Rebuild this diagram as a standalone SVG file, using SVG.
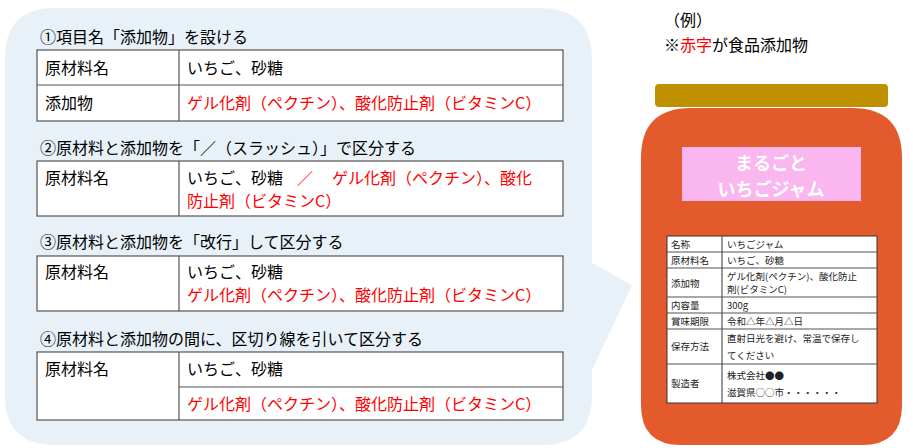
<svg xmlns="http://www.w3.org/2000/svg" width="913" height="448" viewBox="0 0 913 448">
<style>
text{font-family:"Noto Sans CJK JP","Liberation Sans",sans-serif;}
.t{font-size:16px;fill:#000}
.r{font-size:16px;fill:#ff0000}
.cell{fill:#fff;stroke:#555;stroke-width:1.2}
.ln{stroke:#555;stroke-width:1.2}
.s{font-size:9.5px;fill:#222}
.sc{fill:#fff;stroke:#333;stroke-width:1}
</style>
<g id="balloon">
<path d="M55,8 H540 Q592,8 592,60 V263 L632,285 L592,370 V395 Q592,445 542,445 H55 Q5,445 5,395 V58 Q5,8 55,8 Z" fill="#e8f0f8"/>
</g>
<g id="option1">
<text class="t" x="40" y="43">①項目名「添加物」を設ける</text>
<rect class="cell" x="37" y="50" width="526" height="71"/>
<line class="ln" x1="37" y1="85" x2="563" y2="85"/>
<line class="ln" x1="179" y1="50" x2="179" y2="121"/>
<text class="t" x="45" y="74">原材料名</text>
<text class="t" x="187" y="74">いちご、砂糖</text>
<text class="t" x="45" y="109">添加物</text>
<text class="r" x="187" y="109">ゲル化剤（ペクチン）、酸化防止剤（ビタミンC）</text>
</g>
<g id="option2">
<text class="t" x="40" y="154">②原材料と添加物を「／（スラッシュ）」で区分する</text>
<rect class="cell" x="37" y="161" width="526" height="55"/>
<line class="ln" x1="179" y1="161" x2="179" y2="216"/>
<text class="t" x="45" y="184">原材料名</text>
<text class="t" x="187" y="184">いちご、砂糖</text>
<text class="r" x="297" y="184">／</text>
<text class="r" x="332" y="184">ゲル化剤（ペクチン）、酸化</text>
<text class="r" x="187" y="207">防止剤（ビタミンC）</text>
</g>
<g id="option3">
<text class="t" x="40" y="248">③原材料と添加物を「改行」して区分する</text>
<rect class="cell" x="37" y="256" width="526" height="55"/>
<line class="ln" x1="179" y1="256" x2="179" y2="311"/>
<text class="t" x="45" y="278">原材料名</text>
<text class="t" x="187" y="278">いちご、砂糖</text>
<text class="r" x="187" y="301">ゲル化剤（ペクチン）、酸化防止剤（ビタミンC）</text>
</g>
<g id="option4">
<text class="t" x="40" y="345">④原材料と添加物の間に、区切り線を引いて区分する</text>
<rect class="cell" x="37" y="352" width="526" height="68"/>
<line class="ln" x1="179" y1="352" x2="179" y2="420"/>
<line class="ln" x1="179" y1="387" x2="563" y2="387"/>
<text class="t" x="45" y="375">原材料名</text>
<text class="t" x="187" y="375">いちご、砂糖</text>
<text class="r" x="187" y="410">ゲル化剤（ペクチン）、酸化防止剤（ビタミンC）</text>
</g>
<g id="note">
<text class="t" x="664" y="26">（例）</text>
<text class="t" x="664" y="51">※<tspan fill="#ff0000">赤字</tspan>が食品添加物</text>
</g>
<g id="jar">
<rect x="655" y="84" width="233" height="23" rx="4" fill="#bf9000"/>
<path d="M691,108 H852 Q902,108 902,158 V405 Q902,445 862,445 H681 Q641,445 641,405 V158 Q641,108 691,108 Z" fill="#e35b2c"/>
<rect x="682" y="147" width="179" height="54" fill="#f9b6ef"/>
<text x="771" y="170" font-size="18" font-weight="bold" fill="#fff" text-anchor="middle">まるごと</text>
<text x="771" y="196" font-size="18" font-weight="bold" fill="#fff" text-anchor="middle">いちごジャム</text>
<rect class="sc" x="667" y="236" width="210" height="167"/>
<line class="ln" x1="722" y1="236" x2="722" y2="403"/>
<line class="ln" x1="667" y1="252" x2="877" y2="252"/>
<line class="ln" x1="667" y1="268" x2="877" y2="268"/>
<line class="ln" x1="667" y1="297" x2="877" y2="297"/>
<line class="ln" x1="667" y1="313" x2="877" y2="313"/>
<line class="ln" x1="667" y1="329" x2="877" y2="329"/>
<line class="ln" x1="667" y1="364" x2="877" y2="364"/>
<text class="s" x="671" y="248">名称</text><text class="s" x="727" y="248">いちごジャム</text>
<text class="s" x="671" y="264">原材料名</text><text class="s" x="727" y="264">いちご、砂糖</text>
<text class="s" x="671" y="287">添加物</text><text class="s" x="727" y="280">ゲル化剤(ペクチン)、酸化防止</text><text class="s" x="727" y="293">剤(ビタミンC)</text>
<text class="s" x="671" y="309">内容量</text><text class="s" x="727" y="309">300g</text>
<text class="s" x="671" y="325">賞味期限</text><text class="s" x="727" y="325">令和△年△月△日</text>
<text class="s" x="671" y="350">保存方法</text><text class="s" x="727" y="342">直射日光を避け、常温で保存し</text><text class="s" x="727" y="359">てください</text>
<text class="s" x="671" y="387">製造者</text><text class="s" x="727" y="379">株式会社●●</text><text class="s" x="727" y="396">滋賀県○○市・・・・・・</text>
</g>
</svg>
